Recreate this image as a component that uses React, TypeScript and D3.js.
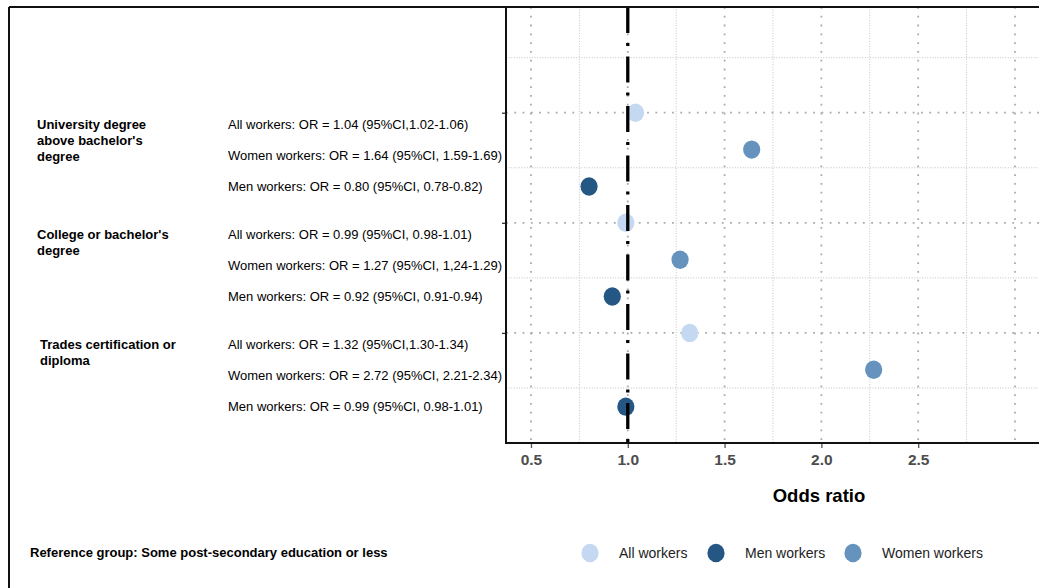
import React, { useEffect, useRef } from 'react';
import * as d3 from 'd3';

// education groups, top to bottom, with their y position on the panel
const groupLines = [
  ['University degree', "above bachelor's", 'degree'],
  ["College or bachelor's", 'degree'],
  ['Trades certification or', 'diploma'],
];
const groupPos = [3, 2, 1];

const seriesNames = ['All workers', 'Women workers', 'Men workers'];

// plotted odds ratios, one row per group (All, Women, Men)
const universityOR = [1.04, 1.64, 0.8];
const collegeOR = [0.99, 1.27, 0.92];
const tradesOR = [1.32, 2.27, 0.99];

const universityLabels = [
  'All workers: OR = 1.04 (95%CI,1.02-1.06)',
  'Women workers: OR = 1.64 (95%CI, 1.59-1.69)',
  'Men workers: OR = 0.80 (95%CI, 0.78-0.82)',
];
const collegeLabels = [
  'All workers: OR = 0.99 (95%CI, 0.98-1.01)',
  'Women workers: OR = 1.27 (95%CI, 1,24-1.29)',
  'Men workers: OR = 0.92 (95%CI, 0.91-0.94)',
];
const tradesLabels = [
  'All workers: OR = 1.32 (95%CI,1.30-1.34)',
  'Women workers: OR = 2.72 (95%CI, 2.21-2.34)',
  'Men workers: OR = 0.99 (95%CI, 0.98-1.01)',
];

const xTicks = [0.5, 1.0, 1.5, 2.0, 2.5];
const xMajorGrid = [0.5, 1.0, 1.5, 2.0, 2.5, 3.0];
const xMinorGrid = [0.75, 1.25, 1.75, 2.25, 2.75];
const yMinorGrid = [0.5, 1.5, 2.5, 3.5];

const legendOrder = ['All workers', 'Men workers', 'Women workers'];
const colors: Record<string, string> = {
  'All workers': '#c5d8f1',
  'Men workers': '#245783',
  'Women workers': '#6593be',
};

const W = 1039;
const H = 588;
const FONT = '"Liberation Sans", Arial, Helvetica, sans-serif';

function ForestChart() {
  const svgRef = useRef<SVGSVGElement>(null);

  useEffect(() => {
    const svg = d3.select(svgRef.current);
    svg.selectAll('*').remove();

    const left = 506;
    const right = W;
    const top = 7;
    const bottom = 443;

    const x = d3.scaleLinear().domain([0.371, 3.124]).range([left, right]);
    const y = d3.scaleLinear().domain([0, 3.96]).range([bottom, top]);
    const dodge = 0.335;

    const orRows = [universityOR, collegeOR, tradesOR];
    const labelRows = [universityLabels, collegeLabels, tradesLabels];

    const points = orRows.flatMap((row, g) =>
      row.map((v, i) => ({ value: v, pos: groupPos[g] - i * dodge, series: seriesNames[i] }))
    );

    // grid
    const grid = svg.append('g');
    grid.selectAll('.vmin').data(xMinorGrid).join('line')
      .attr('x1', d => x(d)).attr('x2', d => x(d))
      .attr('y1', top).attr('y2', bottom)
      .attr('stroke', '#c4c4c4').attr('stroke-width', 1).attr('stroke-dasharray', '1 1.6');
    grid.selectAll('.hmin').data(yMinorGrid).join('line')
      .attr('x1', left).attr('x2', right)
      .attr('y1', d => y(d)).attr('y2', d => y(d))
      .attr('stroke', '#c4c4c4').attr('stroke-width', 1).attr('stroke-dasharray', '1 1.6');
    grid.selectAll('.vmaj').data(xMajorGrid).join('line')
      .attr('x1', d => x(d)).attr('x2', d => x(d))
      .attr('y1', top).attr('y2', bottom)
      .attr('stroke', '#aaaaaa').attr('stroke-width', 1.8).attr('stroke-dasharray', '1.8 7');
    grid.selectAll('.hmaj').data(groupPos).join('line')
      .attr('x1', left).attr('x2', right)
      .attr('y1', d => y(d)).attr('y2', d => y(d))
      .attr('stroke', '#aaaaaa').attr('stroke-width', 1.8).attr('stroke-dasharray', '1.8 6.5');

    // points
    svg.append('g').selectAll('ellipse').data(points).join('ellipse')
      .attr('cx', d => x(d.value))
      .attr('cy', d => y(d.pos))
      .attr('rx', 8.6).attr('ry', 9.2)
      .attr('fill', d => colors[d.series]);

    // reference line at OR = 1
    svg.append('line')
      .attr('x1', x(1)).attr('x2', x(1))
      .attr('y1', top).attr('y2', bottom)
      .attr('stroke', '#000').attr('stroke-width', 3.3)
      .attr('stroke-dasharray', '26 10 3 10.5');

    // axes
    const xAxis = svg.append('g')
      .attr('transform', `translate(0,${bottom})`)
      .call(d3.axisBottom(x).tickValues(xTicks).tickFormat(d3.format('.1f')).tickSize(5).tickPadding(6));
    xAxis.select('.domain').remove();
    xAxis.selectAll('line').attr('stroke', '#555').attr('stroke-width', 1.3);
    xAxis.selectAll('text')
      .attr('font-family', FONT).attr('font-size', 15.5).attr('font-weight', 'bold')
      .attr('fill', '#4d4d4d');

    const yAxis = svg.append('g')
      .attr('transform', `translate(${left},0)`)
      .call(d3.axisLeft(y).tickValues(groupPos).tickSize(4).tickFormat(() => ''));
    yAxis.select('.domain').remove();
    yAxis.selectAll('line').attr('stroke', '#333').attr('stroke-width', 1.3);

    // frame
    svg.append('line').attr('x1', 9).attr('x2', W).attr('y1', top).attr('y2', top)
      .attr('stroke', '#111').attr('stroke-width', 2);
    svg.append('line').attr('x1', 9).attr('x2', 9).attr('y1', top).attr('y2', H)
      .attr('stroke', '#111').attr('stroke-width', 2);
    svg.append('line').attr('x1', left).attr('x2', left).attr('y1', top).attr('y2', bottom + 1)
      .attr('stroke', '#111').attr('stroke-width', 2);
    svg.append('line').attr('x1', left - 1).attr('x2', W).attr('y1', bottom).attr('y2', bottom)
      .attr('stroke', '#111').attr('stroke-width', 2);

    // group labels
    groupLines.forEach((lines, g) => {
      const t = svg.append('text')
        .attr('font-family', FONT).attr('font-size', 13).attr('font-weight', 'bold')
        .attr('fill', '#000');
      lines.forEach((ln, k) => {
        t.append('tspan')
          .attr('x', g === 2 ? 40 : 37)
          .attr('y', y(groupPos[g]) + 12 + k * 16)
          .attr('dy', '0.35em')
          .text(ln);
      });
    });

    // row labels
    labelRows.forEach((row, g) => {
      row.forEach((lab, i) => {
        svg.append('text')
          .attr('x', 228)
          .attr('y', y(groupPos[g]) + 11.5 + i * 31)
          .attr('dy', '0.35em')
          .attr('font-family', FONT).attr('font-size', 13)
          .attr('fill', '#000')
          .text(lab);
      });
    });

    // axis title
    svg.append('text')
      .attr('x', 819).attr('y', 496).attr('dy', '0.35em')
      .attr('text-anchor', 'middle')
      .attr('font-family', FONT).attr('font-size', 18.5).attr('font-weight', 'bold')
      .attr('fill', '#000')
      .text('Odds ratio');

    // footer note
    svg.append('text')
      .attr('x', 30).attr('y', 552).attr('dy', '0.35em')
      .attr('font-family', FONT).attr('font-size', 13).attr('font-weight', 'bold')
      .attr('fill', '#000')
      .text('Reference group: Some post-secondary education or less');

    // legend
    const legendX = d3.scaleOrdinal<string, number>().domain(legendOrder).range([590, 716, 853]);
    const leg = svg.append('g').selectAll('g').data(legendOrder).join('g')
      .attr('transform', d => `translate(${legendX(d)},553)`);
    leg.append('ellipse').attr('rx', 8.6).attr('ry', 9.2).attr('fill', d => colors[d]);
    leg.append('text')
      .attr('x', 29).attr('dy', '0.35em')
      .attr('font-family', FONT).attr('font-size', 14)
      .attr('fill', '#222')
      .text(d => d);
  }, []);

  return <svg ref={svgRef} width={W} height={H} style={{ position: 'absolute', left: 0, top: 0, background: '#fff' }} />;
}

export default function App() {
  return <ForestChart />;
}
